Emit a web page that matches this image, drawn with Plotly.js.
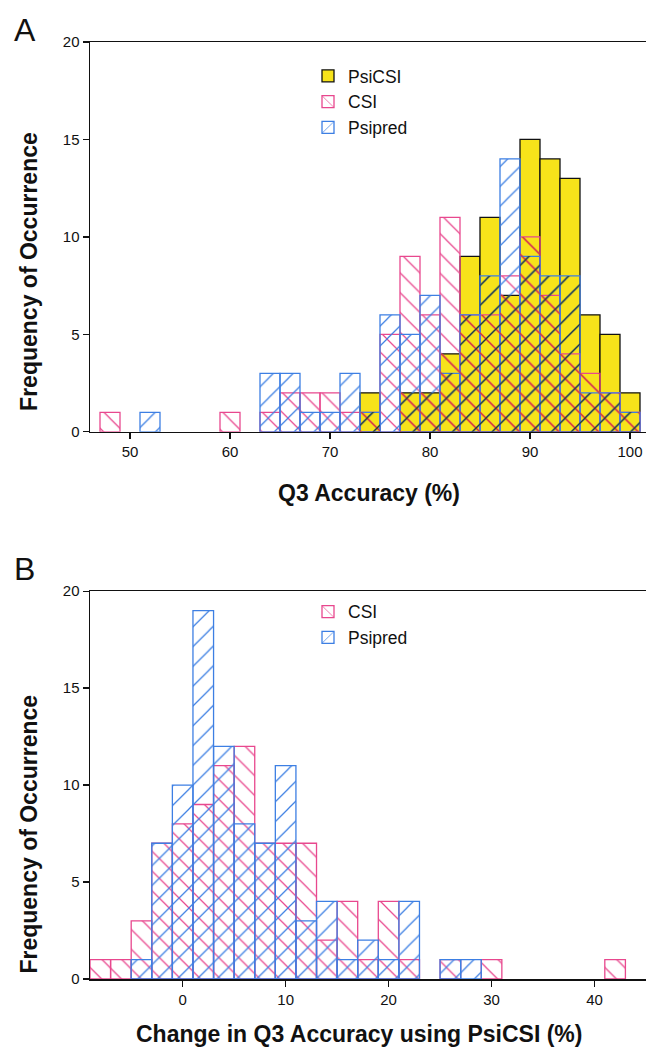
<!DOCTYPE html>
<html><head><meta charset="utf-8">
<script src="https://cdn.plot.ly/plotly-3.0.1.min.js"></script>
<style>html,body{margin:0;padding:0;background:#fff}#chart{width:646px;height:1059px}</style>
</head><body><div id="chart"></div>
<script>
// ---------- Panel A: Q3 accuracy histograms (bin centres, width 2) ----------
const binsA    = [48,50,52,54,56,58,60,62,64,66,68,70,72,74,76,78,80,82,84,86,88,90,92,94,96,98,100];
const psicsiA  = [ 0, 0, 0, 0, 0, 0, 0, 0, 0, 0, 0, 0, 0, 2, 0, 2, 2, 4, 9,11, 7,15,14,13, 6, 5, 2];
const csiA     = [ 1, 0, 0, 0, 0, 0, 1, 0, 1, 2, 2, 2, 1, 1, 5, 9, 6,11, 6, 6, 8,10, 7, 4, 3, 2, 1];
const psipredA = [ 0, 0, 1, 0, 0, 0, 0, 0, 3, 3, 1, 1, 3, 1, 6, 5, 7, 3, 6, 8,14, 9, 8, 8, 2, 2, 1];
// ---------- Panel B: change in Q3 accuracy using PsiCSI ----------
const binsB    = [-8,-6,-4,-2, 0, 2, 4, 6, 8,10,12,14,16,18,20,22,24,26,28,30,32,34,36,38,40,42];
const csiB     = [ 1, 1, 3, 7, 8, 9,11,12, 7, 7, 7, 2, 4, 1, 4, 1, 0, 1, 0, 1, 0, 0, 0, 0, 0, 1];
const psipredB = [ 0, 0, 1, 7,10,19,12, 8, 7,11, 3, 4, 1, 2, 1, 4, 0, 1, 1, 0, 0, 0, 0, 0, 0, 0];
// ---------- tick labels ----------
const ticksXA = [50,60,70,80,90,100];
const ticksXB = [0,10,20,30,40];
const ticksY  = [0,5,10,15,20];

const PINK = '#e8488e', BLUE = '#3d7fe3', YELLOW = '#f7e31a';
const PINK_ON_Y = '#d23a32', BLUE_ON_Y = '#2c3a22';
const FONT = 'Liberation Sans, Arial, Helvetica, sans-serif';

function nz(xs, ys) {
  const x = [], y = [];
  xs.forEach((v, i) => { if (ys[i] > 0) { x.push(v); y.push(ys[i]); } });
  return {x, y};
}
function minArr(a, b) { return a.map((v, i) => Math.min(v, b[i])); }

function hatchTrace(xs, ys, name, color, shape, xa, ya, legend, opts) {
  const d = nz(xs, ys);
  opts = opts || {};
  return {
    type: 'bar', x: d.x, y: d.y, width: 2, name: name,
    xaxis: xa, yaxis: ya, legend: legend,
    showlegend: opts.showlegend !== false,
    hoverinfo: 'skip',
    marker: {
      color: 'rgba(0,0,0,0)',
      line: {color: opts.lineColor || color, width: opts.lineWidth === undefined ? 1.3 : opts.lineWidth},
      pattern: {shape: shape, fgcolor: color, bgcolor: 'rgba(0,0,0,0)',
                fillmode: 'replace', size: 14, solidity: 0.09}
    }
  };
}

const dA = nz(binsA, psicsiA);
const traces = [
  {type: 'bar', x: dA.x, y: dA.y, width: 2, name: 'PsiCSI', xaxis: 'x', yaxis: 'y',
   legend: 'legend', hoverinfo: 'skip',
   marker: {color: YELLOW, line: {color: '#111', width: 1.3}}},
  hatchTrace(binsA, csiA, 'CSI', PINK, '\\', 'x', 'y', 'legend'),
  hatchTrace(binsA, psipredA, 'Psipred', BLUE, '/', 'x', 'y', 'legend'),
  hatchTrace(binsA, minArr(csiA, psicsiA), 'CSI', PINK_ON_Y, '\\', 'x', 'y', 'legend',
             {showlegend: false, lineWidth: 0}),
  hatchTrace(binsA, minArr(psipredA, psicsiA), 'Psipred', BLUE_ON_Y, '/', 'x', 'y', 'legend',
             {showlegend: false, lineWidth: 0}),
  hatchTrace(binsB, csiB, 'CSI', PINK, '\\', 'x2', 'y2', 'legend2'),
  hatchTrace(binsB, psipredB, 'Psipred', BLUE, '/', 'x2', 'y2', 'legend2')
];

const axisCommon = {
  showline: true, linecolor: '#111', linewidth: 1.5,
  ticks: 'outside', ticklen: 6, tickwidth: 1.3, tickcolor: '#111',
  showgrid: false, zeroline: false, fixedrange: true,
  tickfont: {family: FONT, size: 15, color: '#111'}
};

function px2py(py) { return (979.5 - py) / 937.5; }
function px2px(px) { return (px - 90) / 556; }
function ann(text, x, y, size, angle) {
  return {text: text, xref: 'paper', yref: 'paper', x: px2px(x), y: px2py(y),
          xanchor: 'center', yanchor: 'middle', textangle: angle || 0, showarrow: false,
          font: {family: FONT, size: size, color: '#111'}};
}

const layout = {
  width: 646, height: 1059,
  margin: {l: 90, r: 0, t: 42, b: 79.5},
  paper_bgcolor: '#fff', plot_bgcolor: '#fff',
  barmode: 'overlay', bargap: 0,
  font: {family: FONT, color: '#111'},
  xaxis: Object.assign({}, axisCommon, {anchor: 'y', range: [46, 101.6], tickvals: ticksXA,
         ticktext: ticksXA.map(String), mirror: true}),
  yaxis: Object.assign({}, axisCommon, {anchor: 'x', domain: [0.584, 1], range: [0, 20],
         tickvals: ticksY, ticktext: ticksY.map(String)}),
  xaxis2: Object.assign({}, axisCommon, {anchor: 'y2', range: [-9, 45], tickvals: ticksXB,
          ticktext: ticksXB.map(String), mirror: true}),
  yaxis2: Object.assign({}, axisCommon, {anchor: 'x2', domain: [0, 0.4139], range: [0, 20],
          tickvals: ticksY, ticktext: ticksY.map(String)}),
  legend: {x: px2px(308), y: px2py(58), xanchor: 'left', yanchor: 'top', bgcolor: 'rgba(0,0,0,0)',
           font: {family: FONT, size: 17.5, color: '#111'}, traceorder: 'normal'},
  legend2: {x: px2px(308), y: px2py(594), xanchor: 'left', yanchor: 'top', bgcolor: 'rgba(0,0,0,0)',
            font: {family: FONT, size: 17.5, color: '#111'}, traceorder: 'normal'},
  annotations: [
    ann('A', 25, 30, 32),
    ann('B', 24, 569, 32),
    ann('<b>Frequency of Occurrence</b>', 29, 272, 23, -90),
    ann('<b>Frequency of Occurrence</b>', 29, 835, 23, -90),
    ann('<b>Q3 Accuracy (%)</b>', 369, 493, 23),
    ann('<b>Change in Q3 Accuracy using PsiCSI (%)</b>', 359, 1035, 23)
  ]
};

Plotly.newPlot('chart', traces, layout, {staticPlot: true, displayModeBar: false});
</script>
</body></html>
